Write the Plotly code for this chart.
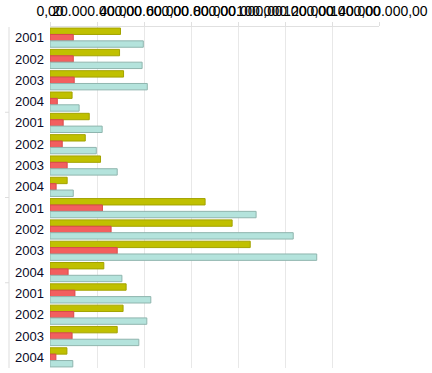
import plotly.graph_objects as go

groups = ["G1", "G2", "G3", "G4"]
years = ["2001", "2002", "2003", "2004"]

series_a = [30.0, 29.6, 31.3, 9.4, 16.7, 15.0, 21.5, 7.3, 66.0, 77.5, 85.2, 22.9, 32.4, 31.1, 28.6, 7.2]
series_b = [9.9, 9.9, 10.3, 3.1, 5.6, 5.2, 7.3, 2.6, 22.3, 26.0, 28.6, 7.7, 10.6, 10.1, 9.4, 2.5]
series_c = [39.7, 39.2, 41.4, 12.4, 22.2, 19.7, 28.6, 9.9, 87.7, 103.5, 113.5, 30.6, 42.9, 41.2, 37.8, 9.7]

cat_ids = [f"{g}-{y}" for g in groups for y in years]
cat_text = [y for _ in groups for y in years]

def scale(v):
    return [x * 1_000_000 for x in v]

fig = go.Figure()
fig.add_trace(go.Bar(y=cat_ids, x=scale(series_a), orientation="h", name="A",
                     marker=dict(color="#c0c000", line=dict(color="#a3a300", width=1))))
fig.add_trace(go.Bar(y=cat_ids, x=scale(series_b), orientation="h", name="B",
                     marker=dict(color="#f25f5f", line=dict(color="#d84a4a", width=1))))
fig.add_trace(go.Bar(y=cat_ids, x=scale(series_c), orientation="h", name="C",
                     marker=dict(color="#b4e3dc", line=dict(color="#8fb5ae", width=1))))

# group separators in the left margin
L = 50
W = 432 - L - 53
xl = (9 - L) / W
xt = (5 - L) / W
shapes = [dict(type="line", xref="paper", yref="paper", x0=xl, x1=xl, y0=0, y1=1,
               line=dict(color="#dddddd", width=1))]
for k in range(1, len(groups)):
    yb = k * len(years) - 0.5
    shapes.append(dict(type="line", xref="paper", yref="y", x0=xt, x1=xl, y0=yb, y1=yb,
                       line=dict(color="#dddddd", width=1)))

fig.update_layout(
    width=432, height=373,
    margin=dict(l=L, r=53, t=27, b=5),
    barmode="group", bargap=0.1, bargroupgap=0,
    showlegend=False,
    paper_bgcolor="white", plot_bgcolor="white",
    separators=",.",
    font=dict(family="Liberation Sans, Arial, sans-serif", color="#000"),
    xaxis=dict(side="top", range=[0, 140_000_000], dtick=20_000_000, tickformat=",.2f",
               tickangle=0, showgrid=True, gridcolor="#e8e8e8", zeroline=False,
               showline=True, linecolor="#e0e0e0", ticks="outside", ticklen=4,
               tickcolor="#e0e0e0", tickfont=dict(size=14, color="#000"), automargin=False),
    yaxis=dict(autorange="reversed", tickmode="array", tickvals=cat_ids, ticktext=cat_text,
               tickfont=dict(size=13, color="#0a0a28"), showgrid=False, showline=False,
               ticks="", ticklabelstandoff=5, automargin=False),
    shapes=shapes,
)

fig.write_html("out.html", post_script="document.body.style.margin='0';",
               config={"displayModeBar": False})
